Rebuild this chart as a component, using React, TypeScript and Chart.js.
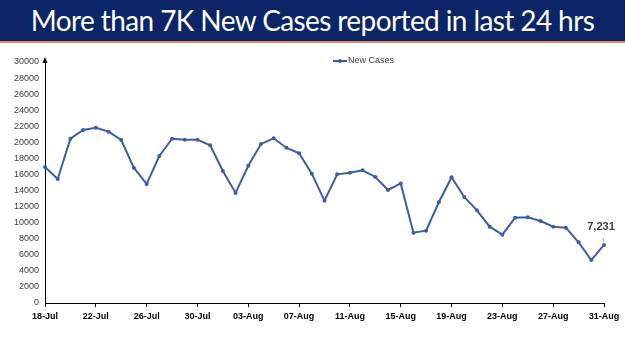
import { useEffect, useRef } from 'react';
import { Chart, registerables } from 'chart.js';

Chart.register(...registerables);

const TITLE = 'More than 7K New Cases reported in last 24 hrs';
const SERIES_NAME = 'New Cases';

const DATES = [
  '18-Jul', '19-Jul', '20-Jul', '21-Jul', '22-Jul', '23-Jul', '24-Jul', '25-Jul', '26-Jul', '27-Jul',
  '28-Jul', '29-Jul', '30-Jul', '31-Jul', '01-Aug', '02-Aug', '03-Aug', '04-Aug', '05-Aug', '06-Aug',
  '07-Aug', '08-Aug', '09-Aug', '10-Aug', '11-Aug', '12-Aug', '13-Aug', '14-Aug', '15-Aug', '16-Aug',
  '17-Aug', '18-Aug', '19-Aug', '20-Aug', '21-Aug', '22-Aug', '23-Aug', '24-Aug', '25-Aug', '26-Aug',
  '27-Aug', '28-Aug', '29-Aug', '30-Aug', '31-Aug',
];

const NEW_CASES = [
  16930, 15440, 20450, 21540, 21820, 21330, 20290, 16810, 14820, 18300,
  20450, 20330, 20330, 19630, 16430, 13700, 17090, 19800, 20500, 19330,
  18640, 16100, 12740, 16020, 16220, 16520, 15690, 14070, 14880, 8750,
  9000, 12540, 15650, 13200, 11540, 9500, 8500, 10620, 10670, 10210,
  9500, 9380, 7560, 5350, 7231,
];

const Y_MIN = 0;
const Y_MAX = 30000;
const Y_STEP = 2000;
const LABEL_EVERY = 4;

const LINE_COLOR = '#3d5da6';

const overlayPlugin = {
  id: 'overlay',
  afterDraw(chart: any) {
    const ctx = chart.ctx;
    const area = chart.chartArea;
    ctx.save();

    // y-axis arrow head
    const ax = area.left;
    ctx.fillStyle = '#000';
    ctx.beginPath();
    ctx.moveTo(ax, area.top - 5);
    ctx.lineTo(ax - 2.5, area.top + 1);
    ctx.lineTo(ax + 2.5, area.top + 1);
    ctx.closePath();
    ctx.fill();

    // legend
    const ly = area.top - 1;
    const lx = 333;
    ctx.strokeStyle = LINE_COLOR;
    ctx.lineWidth = 2;
    ctx.beginPath();
    ctx.moveTo(lx, ly);
    ctx.lineTo(lx + 14, ly);
    ctx.stroke();
    ctx.fillStyle = LINE_COLOR;
    ctx.beginPath();
    ctx.arc(lx + 7, ly, 2, 0, Math.PI * 2);
    ctx.fill();
    ctx.fillStyle = '#404040';
    ctx.font = '9px "Liberation Sans", Arial, sans-serif';
    ctx.textAlign = 'left';
    ctx.textBaseline = 'middle';
    ctx.fillText(SERIES_NAME, lx + 15, ly);

    // last value label
    const meta = chart.getDatasetMeta(0);
    const last = meta.data[meta.data.length - 1];
    const lastVal = NEW_CASES[NEW_CASES.length - 1];
    ctx.strokeStyle = '#a0a0a0';
    ctx.lineWidth = 1;
    ctx.beginPath();
    ctx.moveTo(last.x - 1, last.y - 7);
    ctx.lineTo(last.x, last.y - 3);
    ctx.stroke();
    ctx.fillStyle = '#404040';
    ctx.font = 'bold 11px "Liberation Sans", Arial, sans-serif';
    ctx.textAlign = 'center';
    ctx.fillText(lastVal.toLocaleString('en-US'), last.x - 3, last.y - 18);
    ctx.restore();
  },
};

export default function App() {
  const ref = useRef<HTMLCanvasElement | null>(null);

  useEffect(() => {
    if (!ref.current) return;
    const chart = new Chart(ref.current, {
      type: 'line',
      data: {
        labels: DATES,
        datasets: [
          {
            label: SERIES_NAME,
            data: NEW_CASES,
            borderColor: LINE_COLOR,
            backgroundColor: LINE_COLOR,
            borderWidth: 2,
            pointRadius: 2,
            pointBackgroundColor: LINE_COLOR,
            pointBorderWidth: 0,
            tension: 0,
          },
        ],
      },
      options: {
        animation: false,
        responsive: false,
        devicePixelRatio: 1,
        layout: { padding: { left: 0, right: 21, top: 19, bottom: 0 } },
        plugins: {
          legend: { display: false },
          tooltip: { enabled: false },
        },
        scales: {
          x: {
            offset: false,
            grid: {
              drawOnChartArea: false,
              drawTicks: true,
              tickLength: 4,
              color: (c: any) => (c.index % LABEL_EVERY === 0 ? '#000' : 'rgba(0,0,0,0)'),
            },
            border: { display: true, color: '#000', width: 1 },
            ticks: {
              autoSkip: false,
              maxRotation: 0,
              padding: 4,
              color: '#000',
              font: { family: '"Liberation Sans", Arial, sans-serif', size: 9, weight: 'bold' },
              callback: (_v: any, i: number) => (i % LABEL_EVERY === 0 ? DATES[i] : ''),
            },
            afterFit: (s: any) => {
              s.height = 48;
            },
          },
          y: {
            min: Y_MIN,
            max: Y_MAX,
            grid: { display: false, drawTicks: false },
            border: { display: true, color: '#000', width: 1 },
            ticks: {
              stepSize: Y_STEP,
              padding: 6,
              color: '#404040',
              font: { family: '"Liberation Sans", Arial, sans-serif', size: 9 },
              callback: (v: any) => String(v),
            },
            afterFit: (s: any) => {
              s.width = 45;
            },
          },
        },
      },
      plugins: [overlayPlugin],
    } as any);
    return () => chart.destroy();
  }, []);

  return (
    <div
      style={{
        position: 'absolute',
        top: 0,
        left: 0,
        width: 625,
        height: 351,
        background: '#fff',
        overflow: 'hidden',
      }}
    >
      <div
        style={{
          height: 41,
          background: '#0c2566',
          borderBottom: '2px solid #d98c6a',
          color: '#fff',
          fontFamily: 'Lato, "Open Sans", sans-serif',
          fontSize: 28,
          letterSpacing: '-0.6px',
          lineHeight: '41px',
          textAlign: 'center',
          whiteSpace: 'nowrap',
        }}
      >
        {TITLE}
      </div>
      <canvas ref={ref} width={625} height={308} style={{ display: 'block' }} />
    </div>
  );
}
